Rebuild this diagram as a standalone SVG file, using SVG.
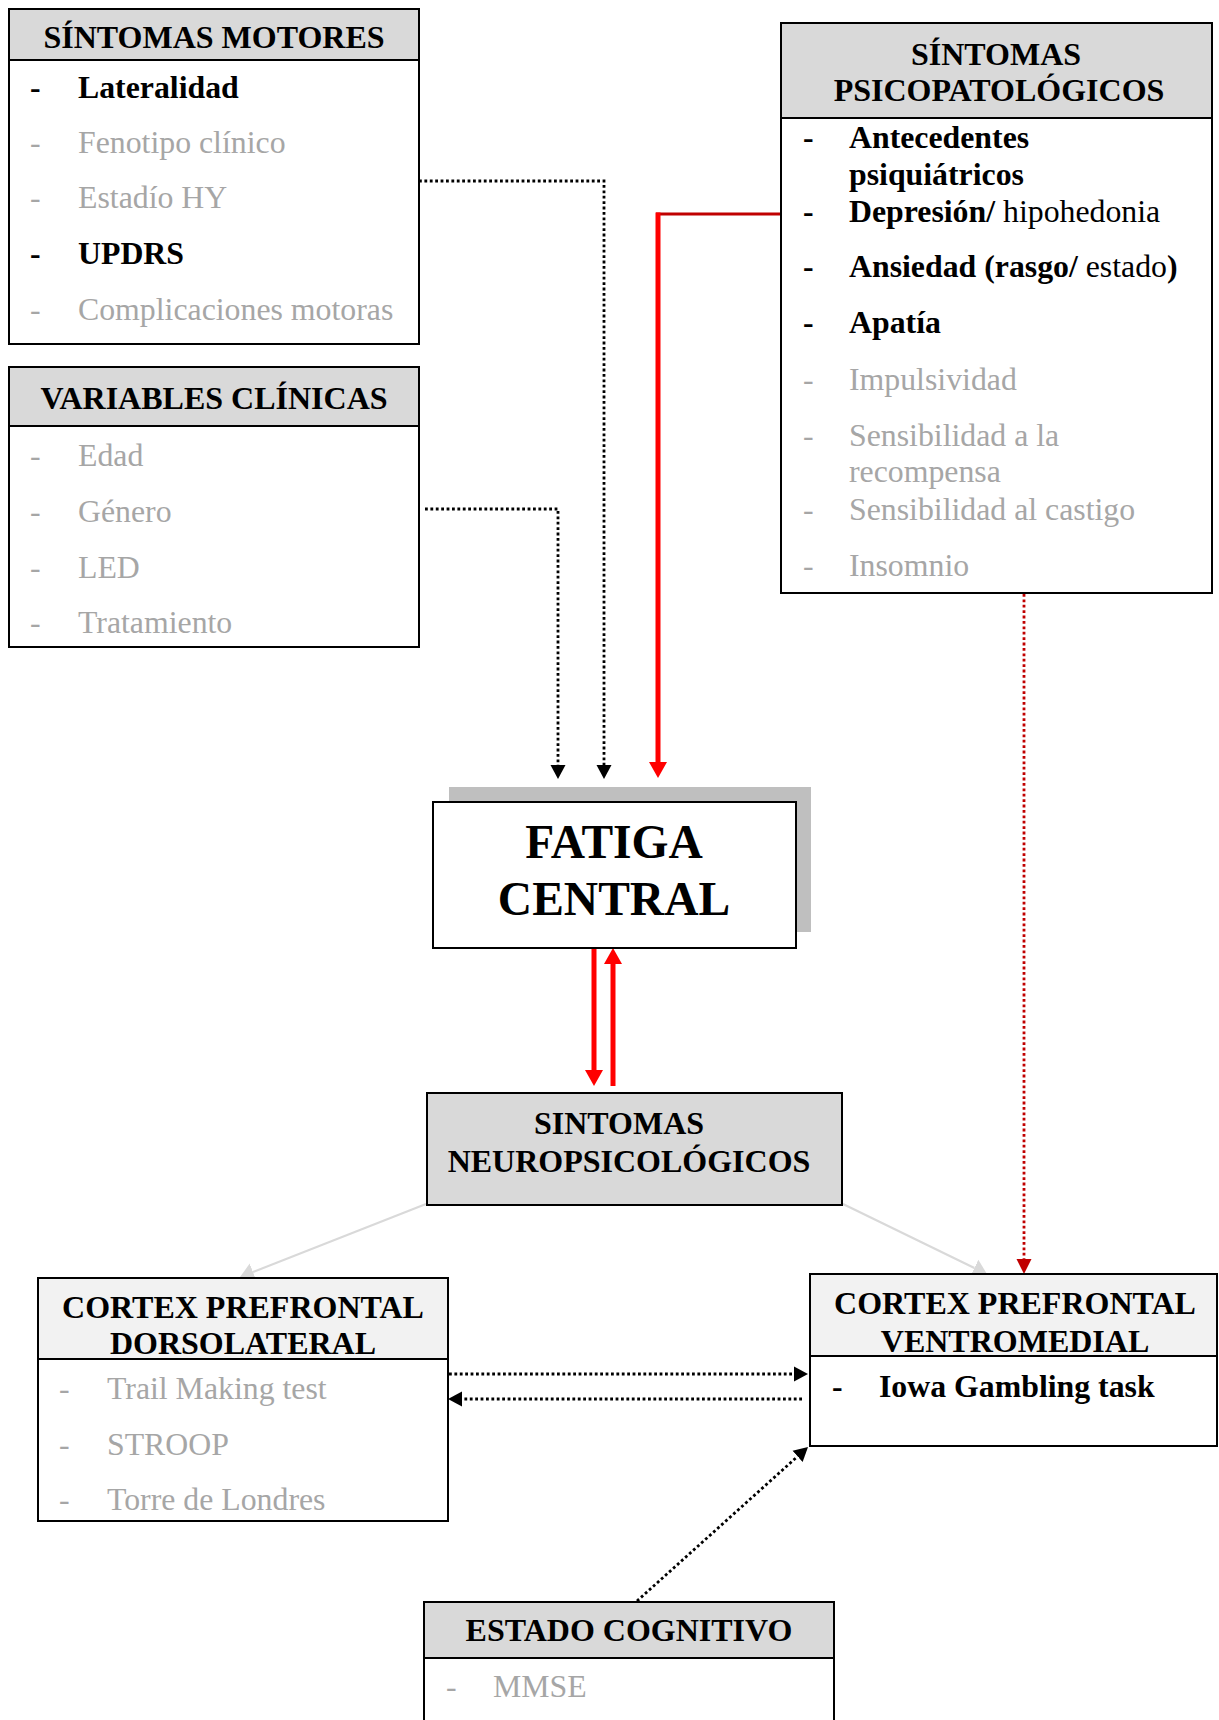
<svg xmlns="http://www.w3.org/2000/svg" width="1219" height="1720" viewBox="0 0 1219 1720">
  <style>
    text { font-family: "Liberation Serif", "Times New Roman", serif; }
    .box { fill: #ffffff; stroke: #000000; stroke-width: 2; }
    .hd { fill: #d9d9d9; stroke: #000000; stroke-width: 2; }
    .hd2 { fill: #f2f2f2; stroke: #000000; stroke-width: 2; }
    .title { font-size: 32px; font-weight: bold; fill: #000000; text-anchor: middle; }
    .big { font-size: 47.5px; font-weight: bold; fill: #000000; text-anchor: middle; }
    .it { font-size: 31.8px; fill: #a6a6a6; }
    .itb { font-size: 31.8px; fill: #000000; font-weight: bold; }
    .reg { font-weight: normal; }
    .dot { fill: none; stroke: #000000; stroke-width: 2.8; stroke-dasharray: 2.8 2.6; }
    .dotred { fill: none; stroke: #c00000; stroke-width: 2.8; stroke-dasharray: 2.8 2.6; }
    .red { fill: none; stroke: #ff0000; stroke-width: 5; }
    .grey { fill: none; stroke: #d9d9d9; stroke-width: 2.2; }
  </style>
  <defs>
    <marker id="ahBlack" markerUnits="userSpaceOnUse" viewBox="0 -8 14 16" refX="0" refY="0" markerWidth="14" markerHeight="16" orient="auto">
      <path d="M0,-7.5 L14,0 L0,7.5 z" fill="#000000"/>
    </marker>
    <marker id="ahRed" markerUnits="userSpaceOnUse" viewBox="0 -9 16 18" refX="0" refY="0" markerWidth="16" markerHeight="18" orient="auto">
      <path d="M0,-9 L16,0 L0,9 z" fill="#ff0000"/>
    </marker>
    <marker id="ahDarkRed" markerUnits="userSpaceOnUse" viewBox="0 -8 15 16" refX="0" refY="0" markerWidth="15" markerHeight="16" orient="auto">
      <path d="M0,-7.5 L15,0 L0,7.5 z" fill="#c00000"/>
    </marker>
    <marker id="ahGrey" markerUnits="userSpaceOnUse" viewBox="0 -10 14 20" refX="0" refY="0" markerWidth="14" markerHeight="20" orient="auto">
      <path d="M0,-9 L14,0 L0,9 z" fill="#d9d9d9"/>
    </marker>
  </defs>

  <rect width="1219" height="1720" fill="#ffffff"/>

  <!-- connectors -->
  <g id="connectors">
    <path class="dot" d="M419,181 H604 V765" marker-end="url(#ahBlack)"/>
    <path class="dot" d="M425,509 H558 V765" marker-end="url(#ahBlack)"/>
    <path d="M781,214 H656" fill="none" stroke="#c00000" stroke-width="3"/>
    <path class="red" d="M658,212.5 V762" marker-end="url(#ahRed)"/>
    <path class="red" d="M594,948 V1070" marker-end="url(#ahRed)"/>
    <path class="red" d="M613,1086 V964" marker-end="url(#ahRed)"/>
    <path class="grey" d="M426,1204 L253,1272" marker-end="url(#ahGrey)"/>
    <path class="grey" d="M843,1204 L974.4,1267.9" marker-end="url(#ahGrey)"/>
    <path class="dotred" d="M1024,594 V1259" marker-end="url(#ahDarkRed)"/>
    <path class="dot" d="M449,1374 H794" marker-end="url(#ahBlack)"/>
    <path class="dot" d="M802,1399 H462" marker-end="url(#ahBlack)"/>
    <path class="dot" d="M637,1601 L797.6,1456.4" marker-end="url(#ahBlack)"/>
  </g>

  <!-- motor symptoms -->
  <g id="sintomas-motores">
    <rect class="box" x="9" y="9" width="410" height="335"/>
    <rect class="hd" x="9" y="9" width="410" height="51"/>
    <text class="title" x="214" y="48">SÍNTOMAS MOTORES</text>
    <text class="itb" x="30" y="98">-</text><text class="itb" x="78" y="98">Lateralidad</text>
    <text class="it" x="30" y="153">-</text><text class="it" x="78" y="153">Fenotipo clínico</text>
    <text class="it" x="30" y="208">-</text><text class="it" x="78" y="208">Estadío HY</text>
    <text class="itb" x="30" y="264">-</text><text class="itb" x="78" y="264">UPDRS</text>
    <text class="it" x="30" y="320">-</text><text class="it" x="78" y="320">Complicaciones motoras</text>
  </g>

  <!-- clinical variables -->
  <g id="variables-clinicas">
    <rect class="box" x="9" y="367" width="410" height="280"/>
    <rect class="hd" x="9" y="367" width="410" height="59"/>
    <text class="title" x="214" y="409">VARIABLES CLÍNICAS</text>
    <text class="it" x="30" y="466">-</text><text class="it" x="78" y="466">Edad</text>
    <text class="it" x="30" y="522">-</text><text class="it" x="78" y="522">Género</text>
    <text class="it" x="30" y="578">-</text><text class="it" x="78" y="578">LED</text>
    <text class="it" x="30" y="633">-</text><text class="it" x="78" y="633">Tratamiento</text>
  </g>

  <!-- psychopathological symptoms -->
  <g id="sintomas-psicopatologicos">
    <rect class="box" x="781" y="23" width="431" height="570"/>
    <rect class="hd" x="781" y="23" width="431" height="95"/>
    <text class="title" x="996" y="65">SÍNTOMAS</text>
    <text class="title" x="999" y="101">PSICOPATOLÓGICOS</text>
    <text class="itb" x="803" y="148">-</text><text class="itb" x="849" y="148">Antecedentes</text>
    <text class="itb" x="849" y="185">psiquiátricos</text>
    <text class="itb" x="803" y="222">-</text><text class="itb" x="849" y="222">Depresión/<tspan class="reg"> hipohedonia</tspan></text>
    <text class="itb" x="803" y="277">-</text><text class="itb" x="849" y="277">Ansiedad (rasgo/<tspan class="reg"> estado</tspan>)</text>
    <text class="itb" x="803" y="333">-</text><text class="itb" x="849" y="333">Apatía</text>
    <text class="it" x="803" y="390">-</text><text class="it" x="849" y="390">Impulsividad</text>
    <text class="it" x="803" y="446">-</text><text class="it" x="849" y="446">Sensibilidad a la</text>
    <text class="it" x="849" y="482">recompensa</text>
    <text class="it" x="803" y="520">-</text><text class="it" x="849" y="520">Sensibilidad al castigo</text>
    <text class="it" x="803" y="576">-</text><text class="it" x="849" y="576">Insomnio</text>
  </g>

  <!-- central fatigue -->
  <g id="fatiga-central">
    <rect x="449" y="787" width="362" height="145" fill="#bfbfbf"/>
    <rect class="box" x="433" y="802" width="363" height="146"/>
    <text class="big" x="614" y="858">FATIGA</text>
    <text class="big" x="614" y="915">CENTRAL</text>
  </g>

  <!-- neuropsychological symptoms -->
  <g id="sintomas-neuropsicologicos">
    <rect class="hd" x="427" y="1093" width="415" height="112"/>
    <text class="title" x="619" y="1134">SINTOMAS</text>
    <text class="title" x="629" y="1172">NEUROPSICOLÓGICOS</text>
  </g>

  <!-- dorsolateral prefrontal cortex -->
  <g id="cortex-dorsolateral">
    <rect class="box" x="38" y="1278" width="410" height="243"/>
    <rect class="hd2" x="38" y="1278" width="410" height="81"/>
    <text class="title" x="243" y="1318">CORTEX PREFRONTAL</text>
    <text class="title" x="243" y="1354">DORSOLATERAL</text>
    <text class="it" x="59" y="1399">-</text><text class="it" x="107" y="1399">Trail Making test</text>
    <text class="it" x="59" y="1455">-</text><text class="it" x="107" y="1455">STROOP</text>
    <text class="it" x="59" y="1510">-</text><text class="it" x="107" y="1510">Torre de Londres</text>
  </g>

  <!-- ventromedial prefrontal cortex -->
  <g id="cortex-ventromedial">
    <rect class="box" x="810" y="1274" width="407" height="172"/>
    <rect class="hd2" x="810" y="1274" width="407" height="82"/>
    <text class="title" x="1015" y="1314">CORTEX PREFRONTAL</text>
    <text class="title" x="1015" y="1352">VENTROMEDIAL</text>
    <text class="itb" x="832" y="1397">-</text><text class="itb" x="879" y="1397">Iowa Gambling task</text>
  </g>

  <!-- cognitive state -->
  <g id="estado-cognitivo">
    <rect class="box" x="424" y="1602" width="410" height="130"/>
    <rect class="hd" x="424" y="1602" width="410" height="56"/>
    <text class="title" x="629" y="1641">ESTADO COGNITIVO</text>
    <text class="it" x="446" y="1697">-</text><text class="it" x="493" y="1697">MMSE</text>
  </g>
</svg>
